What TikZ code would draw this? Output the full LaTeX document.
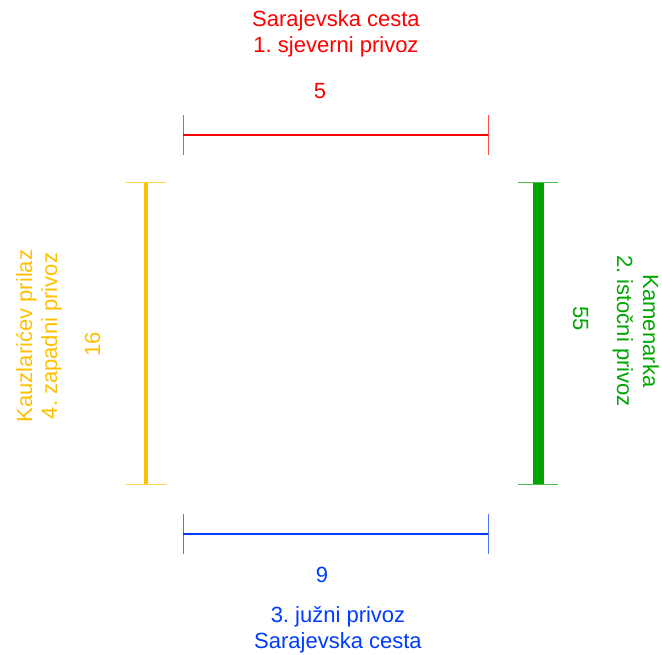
\documentclass[tikz,border=0pt]{standalone}
\usepackage{fontspec}
\setmainfont{Liberation Sans}
\frenchspacing
\definecolor{cRed}{RGB}{255,0,0}
\definecolor{cYel}{RGB}{255,192,0}
\definecolor{cGrn}{RGB}{0,166,0}
\definecolor{cBlu}{RGB}{0,60,255}
\begin{document}
\begin{tikzpicture}[x=1pt,y=-1pt,
  lbl/.style={inner sep=0pt, font=\fontsize{22}{26}\selectfont, anchor=base},
  tickln/.style={line width=1pt, draw opacity=0.7}]
\useasboundingbox (0,0) rectangle (662,655);
% north
\node[lbl, text=cRed] (t1) at (336,27) {Sarajevska cesta};
\node[lbl, text=cRed] (t2) at (336,53) {1. sjeverni privoz};
\node[lbl, text=cRed] (n5) at (320,99) {5};
\coordinate (na) at (183,135);
\coordinate (nb) at (488,135);
\draw[cRed, line width=2pt] (na) -- (nb);
\draw[cRed, tickln] ([yshift=-20pt]na) -- ([yshift=20pt]na);
\draw[cRed, tickln] ([yshift=-20pt]nb) -- ([yshift=20pt]nb);
% south
\node[lbl, text=cBlu] (n9) at (322,582) {9};
\node[lbl, text=cBlu] (s1) at (338,622) {3. južni privoz};
\node[lbl, text=cBlu] (s2) at (338,648) {Sarajevska cesta};
\coordinate (sa) at (183,534);
\coordinate (sb) at (488,534);
\draw[cBlu, line width=2.5pt] (sa) -- (sb);
\draw[cBlu, tickln] ([yshift=-20pt]sa) -- ([yshift=20pt]sa);
\draw[cBlu, tickln] ([yshift=-20pt]sb) -- ([yshift=20pt]sb);
% west
\node[lbl, text=cYel, rotate=90] (w1) at (32,336) {Kauzlarićev prilaz};
\node[lbl, text=cYel, rotate=90] (w2) at (57,336) {4. zapadni privoz};
\node[lbl, text=cYel, rotate=90] (w3) at (100,344) {16};
\coordinate (wa) at (146,183);
\coordinate (wb) at (146,484);
\draw[cYel, line width=4pt] (wa) -- (wb);
\draw[cYel, tickln] ([xshift=-20pt]wa) -- ([xshift=20pt]wa);
\draw[cYel, tickln] ([xshift=-20pt]wb) -- ([xshift=20pt]wb);
% east
\node[lbl, text=cGrn, rotate=-90] (e1) at (643,331) {Kamenarka};
\node[lbl, text=cGrn, rotate=-90] (e2) at (617,331) {2. istočni privoz};
\node[lbl, text=cGrn, rotate=-90] (e3) at (573,319) {55};
\coordinate (ea) at (538,183);
\coordinate (eb) at (538,484);
\draw[cGrn, line width=11pt] (ea) -- (eb);
\draw[cGrn, tickln] ([xshift=-20pt]ea) -- ([xshift=20pt]ea);
\draw[cGrn, tickln] ([xshift=-20pt]eb) -- ([xshift=20pt]eb);
\end{tikzpicture}
\end{document}
